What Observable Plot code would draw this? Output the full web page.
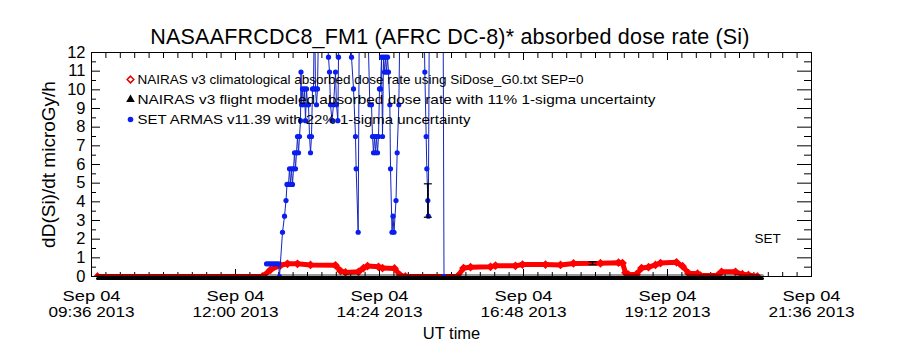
<!DOCTYPE html>
<html><head><meta charset="utf-8">
<script src="https://cdn.jsdelivr.net/npm/d3@7"></script>
<script src="https://cdn.jsdelivr.net/npm/@observablehq/plot@0.6"></script>
<style>
body{margin:0;background:#fff;}
#wrap{position:relative;width:900px;height:350px;font-family:"Liberation Sans",Arial,sans-serif;}
#wrap svg{position:absolute;left:0;top:0;}
#title{position:absolute;left:0;top:26px;width:900px;text-align:center;font-size:21.5px;line-height:22px;letter-spacing:0.2px;z-index:2;color:#000;}
</style></head><body>
<div id="wrap"><div id="title">NASAAFRCDC8_FM1 (AFRC DC-8)* absorbed dose rate (Si)</div></div>
<script>
// ---- axis definitions ----
const day = "2013-09-04";
const xDomain = ["09:36", "21:36"];
const xTickTimes = ["09:36", "12:00", "14:24", "16:48", "19:12", "21:36"];
const xTickDates = ["Sep 04", "Sep 04", "Sep 04", "Sep 04", "Sep 04", "Sep 04"];
const xTickYear = "2013";
const yTicks = [0, 1, 2, 3, 4, 5, 6, 7, 8, 9, 10, 11, 12];
const yLabel = "dD(Si)/dt microGy/h";
const xLabel = "UT time";
const legendLabels = [
  "NAIRAS v3 climatological absorbed dose rate using SiDose_G0.txt SEP=0",
  "NAIRAS v3 flight modeled absorbed dose rate with 11% 1-sigma uncertainty",
  "SET ARMAS v11.39 with 22% 1-sigma uncertainty"
];
const cornerLabel = "SET";

// ---- NAIRAS v3 climatological (red) ----
const climTime = ["09:42","12:27","12:35","12:45","12:52","13:02","13:15","13:40","13:45","13:50",
  "14:03","14:08","14:12","14:23","14:27","14:39","14:45","14:50","15:42","15:48",
  "15:55","16:15","16:20","16:40","16:47","17:10","17:25","17:38","18:05","18:23",
  "18:27","18:30","18:33","18:41","18:46","18:53","19:00","19:05","19:21","19:27",
  "19:33","19:42","19:45","20:02","20:06","20:20","20:27","20:33","20:42"];
const climDose = [0,0,0.36,0.6,0.68,0.68,0.62,0.6,0.3,0.22,
  0.25,0.45,0.56,0.52,0.45,0.43,0.05,0,0,0.45,
  0.5,0.52,0.58,0.57,0.64,0.64,0.62,0.7,0.71,0.74,
  0.72,0.2,0.1,0.12,0.45,0.5,0.62,0.72,0.76,0.55,
  0.18,0.15,0.05,0.05,0.25,0.25,0.12,0.08,0];

// ---- NAIRAS v3 flight modeled (black) ----
const flightTime = ["09:42", "20:47"];
const flightDose = [0, 0];

// ---- SET ARMAS v11.39 (blue) ----
const armasTime = ["12:31","12:33","12:35","12:37","12:39","12:41","12:43","12:44","12:47","12:49",
  "12:50:30","12:51:30","12:53","12:54","12:55","12:56","12:57","12:58","12:59","13:00",
  "13:01","13:02","13:03","13:04","13:05","13:05:30","13:06","13:07","13:08","13:09",
  "13:10","13:11","13:12","13:13","13:14","13:15","13:16","13:17","13:18","13:19",
  "13:20","13:21","13:22","13:23:30","13:26","13:29","13:33","13:34","13:35","13:36:30",
  "13:38","13:40","13:41","13:42:20","13:43","13:45","13:51","13:56","13:58","14:00",
  "14:00:40","14:02:40","14:04","14:11:40","14:14:20","14:16","14:17","14:18","14:19","14:20",
  "14:21","14:22","14:23","14:24","14:25","14:26","14:27","14:28","14:29","14:30",
  "14:31","14:32","14:33","14:34:20","14:35","14:36:30","14:37:30","14:38:30","14:40:30","14:41:40",
  "14:43:20","14:45","14:55","15:05","15:08","15:09:20","15:10:40","15:11:20","15:12:20","15:12:50",
  "15:14","15:21","15:27:30","15:28:30"];
const armasDose = [0.68,0.68,0.68,0.68,0.68,0.68,0.68,0,2.37,3.23,
  4.07,4.93,4.93,5.77,4.93,5.77,4.93,5.77,6.63,5.77,
  6.63,7.5,6.63,7.5,8.35,10.95,9.2,10.05,9.2,10.05,
  8.35,10.05,9.2,9.2,7.5,6.63,7.5,10.05,10.05,15,
  10.05,9.2,10.05,15,14,15,11.75,10.95,9.2,8.35,
  9.2,10.95,9.2,8.35,11.75,15,16,11.75,10.05,7.5,
  5.77,2.37,16,15,9.2,9.2,7.5,6.63,7.5,6.63,
  7.5,6.63,7.5,10.05,10.05,11.75,7.5,11.75,10.95,11.75,
  10.95,11.75,10.95,9.2,5.77,2.37,3.23,2.37,4.07,6.63,
  9.2,16,18,18,16,10.95,7.5,5.77,4.07,3.23,
  16,18,16,0];

// ---- error bars (1-sigma) ----
const errTime = ["15:12:20", "17:57"];
const errDose = [4.07, 0.71];
const errFrac = [0.22, 0.11];

// ---- helpers ----
const T = s => new Date(`${day}T${s.length === 5 ? s + ":00" : s}Z`);
const clim = climTime.map((t, i) => ({t: T(t), v: climDose[i]}));
const flight = flightTime.map((t, i) => ({t: T(t), v: flightDose[i]}));
const armas = armasTime.map((t, i) => ({t: T(t), v: armasDose[i]}));
const errs = errTime.map((t, i) => ({t: T(t), lo: errDose[i] * (1 - errFrac[i]), hi: errDose[i] * (1 + errFrac[i])}));
const x0 = T(xDomain[0]), x1 = T(xDomain[1]);
const majorX = xTickTimes.map(T);
const minorX = d3.range(0, 51).map(k => new Date(+x0 + k * (x1 - x0) / 50));
const minorY = d3.range(0, 24).map(k => k + 0.5).filter(v => v < 12);
const idxOf = d => majorX.findIndex(m => +m === +d);

const capSymbol = {draw(ctx, size) { const r = Math.sqrt(size / Math.PI); ctx.moveTo(-r, 0); ctx.lineTo(r, 0); }};
const W = 720, H = 224;
const legendRowsDy = [27, 47, 67];
const legendWidths = [446, 518, 333];

const chart = Plot.plot({
  width: 900, height: 350,
  marginLeft: 91, marginRight: 89, marginTop: 52, marginBottom: 74,
  style: {fontFamily: "'Liberation Sans', Arial, sans-serif", background: "transparent", color: "#000", overflow: "visible"},
  x: {type: "utc", domain: [x0, x1], axis: null},
  y: {domain: [0, 12], axis: null},
  marks: [
    // ticks (inward)
    Plot.ruleX(minorX, {insetBottom: H - 6, stroke: "#000"}),
    Plot.ruleX(majorX, {insetBottom: H - 8, stroke: "#000"}),
    Plot.ruleX(minorX, {insetTop: H - 4, stroke: "#000"}),
    Plot.ruleX(majorX, {insetTop: H - 7, stroke: "#000"}),
    Plot.ruleY(yTicks, {insetRight: W - 9, stroke: "#000"}),
    Plot.ruleY(minorY, {insetRight: W - 5, stroke: "#000"}),
    Plot.ruleY(yTicks, {insetLeft: W - 14, stroke: "#000"}),
    Plot.ruleY(minorY, {insetLeft: W - 7, stroke: "#000"}),
    // red climatological
    Plot.line(clim, {x: "t", y: "v", stroke: "#ff0000", strokeWidth: 5, clip: true}),
    Plot.dot(clim, {x: "t", y: "v", symbol: "diamond2", r: 3, stroke: "#ff0000", strokeWidth: 1.5, clip: true}),
    // black flight modeled (overlaps the red where the dose is ~0)
    Plot.line(flight, {x: "t", y: "v", stroke: "#000", strokeOpacity: 0.4, strokeWidth: 3, dy: -1}),
    Plot.line(flight, {x: "t", y: "v", stroke: "#000", strokeWidth: 3, dy: 2}),
    // blue SET ARMAS
    Plot.line(armas, {x: "t", y: "v", stroke: "#1424c0", strokeWidth: 1, clip: true}),
    Plot.dot(armas, {x: "t", y: "v", r: 2.6, fill: "#0a1ef0", clip: true}),
    // error bars
    Plot.ruleX(errs, {x: "t", y1: "lo", y2: "hi", stroke: "#000", strokeWidth: 1.5}),
    Plot.dot(errs, {x: "t", y: "lo", symbol: capSymbol, r: 4, stroke: "#000", strokeWidth: 1.2}),
    Plot.dot(errs, {x: "t", y: "hi", symbol: capSymbol, r: 4, stroke: "#000", strokeWidth: 1.2}),
    Plot.frame({stroke: "#000"}),
    // axes labels (two rows)
    Plot.axisX(majorX, {anchor: "bottom", tickSize: 0, tickPadding: 0, dy: 20, lineAnchor: "middle", tickFormat: d => xTickDates[idxOf(d)], fontSize: 14.5, label: null}),
    Plot.axisX(majorX, {anchor: "bottom", tickSize: 0, tickPadding: 0, dy: 36, lineAnchor: "middle", tickFormat: d => `${xTickTimes[idxOf(d)]} ${xTickYear}`, fontSize: 14.5, label: null}),
    Plot.axisY(yTicks, {anchor: "left", tickSize: 0, tickPadding: 6, fontSize: 16.5, label: null}),
    Plot.text([yLabel], {text: d => d, frameAnchor: "left", textAnchor: "middle", lineAnchor: "middle", rotate: -90, dx: -43, fontSize: 19}),
    Plot.text([xLabel], {text: d => d, frameAnchor: "bottom", textAnchor: "middle", lineAnchor: "middle", dy: 57, fontSize: 16.5}),
    Plot.text([cornerLabel], {text: d => d, frameAnchor: "bottom-right", textAnchor: "middle", lineAnchor: "middle", dx: -44, dy: -38, fontSize: 13.5}),
    // legend
    Plot.dot([0], {frameAnchor: "top-left", dx: 39, dy: legendRowsDy[0], symbol: "diamond2", r: 3, stroke: "#e00000", strokeWidth: 1.5}),
    Plot.dot([0], {frameAnchor: "top-left", dx: 39, dy: legendRowsDy[1], symbol: "triangle", r: 3.2, fill: "#000"}),
    Plot.dot([0], {frameAnchor: "top-left", dx: 39, dy: legendRowsDy[2], r: 2.8, fill: "#0a1ef0"}),
    ...legendLabels.map((lab, i) => Plot.text([lab], {text: d => d, frameAnchor: "top-left", textAnchor: "start", lineAnchor: "middle", dx: 46, dy: legendRowsDy[i], fontSize: 13.5}))
  ]
});
document.getElementById("wrap").appendChild(chart);
const sel = d3.select(chart);
legendLabels.forEach((lab, i) => {
  sel.selectAll("text").filter(function() { return this.textContent === lab; })
    .attr("textLength", legendWidths[i]).attr("lengthAdjust", "spacingAndGlyphs");
});
// widen tick labels to match the reference lettering
sel.selectAll("text").filter(function() { return /^\d\d:\d\d \d{4}$/.test(this.textContent); })
  .attr("textLength", 86).attr("lengthAdjust", "spacingAndGlyphs");
sel.selectAll("text").filter(function() { return this.textContent === "Sep 04"; })
  .attr("textLength", 58).attr("lengthAdjust", "spacingAndGlyphs");
</script>
</body></html>
